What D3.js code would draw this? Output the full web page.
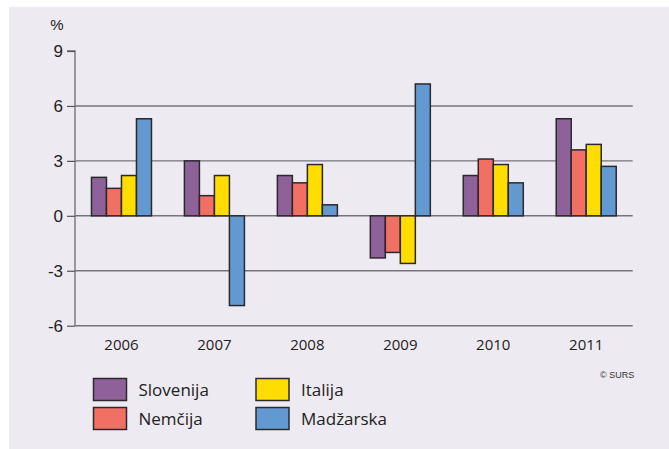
<!DOCTYPE html>
<html><head><meta charset="utf-8">
<script src="https://cdn.jsdelivr.net/npm/d3@7"></script>
<style>body{margin:0;background:#fff}svg{display:block}</style>
</head><body>
<svg id="c" width="669" height="449"></svg>
<script>
const years = ["2006","2007","2008","2009","2010","2011"];
const seriesNames = ["Slovenija","Nemčija","Italija","Madžarska"];
const slovenija = [2.1, 3.0, 2.2, -2.3, 2.2, 5.3];
const nemcija   = [1.5, 1.1, 1.8, -2.0, 3.1, 3.6];
const italija   = [2.2, 2.2, 2.8, -2.6, 2.8, 3.9];
const madzarska = [5.3, -4.9, 0.6, 7.2, 1.8, 2.7];
const yTicks = [9, 6, 3, 0, -3, -6];
const colors = ["#8F6199", "#F26F63", "#FFDD00", "#6399D1"];
const seriesVals = [slovenija, nemcija, italija, madzarska];

const svg = d3.select("#c");
svg.append("rect").attr("x",9).attr("y",7).attr("width",660).attr("height",442).attr("fill","#EEEAF1");

const x0 = d3.scaleBand().domain(years).range([75, 632.7]);
const x1 = d3.scaleBand().domain(seriesNames).range([0, 60]);
const y = d3.scaleLinear().domain([-6, 9]).range([325.7, 51]);

// gridlines
svg.append("g").selectAll("line").data(yTicks.filter(d => d !== 9)).join("line")
  .attr("x1", 75).attr("x2", 632.7).attr("y1", d => y(d)).attr("y2", d => y(d))
  .attr("stroke", "#77737a").attr("stroke-width", 1.4);

// y axis
const yAxis = d3.axisLeft(y).tickValues(yTicks).tickSize(8).tickPadding(4).tickFormat(d => String(d));
const ga = svg.append("g").attr("transform","translate(75,0)").call(yAxis);
ga.select(".domain").attr("stroke","#77737a").attr("stroke-width",1.4).attr("d", `M-8,${y(9)}H0V${y(-6)}`);
ga.selectAll(".tick line").attr("stroke","#55525a").attr("stroke-width",1.2);
ga.selectAll(".tick text").attr("font-family","Liberation Sans, Arial, sans-serif").attr("font-size",17).attr("fill","#222").attr("dy","0.35em");

svg.append("text").attr("x",57).attr("y",30).attr("text-anchor","middle")
  .attr("font-family","Liberation Sans, Arial, sans-serif").attr("font-size",15).attr("fill","#222").text("%");

// bars
years.forEach((yr, i) => {
  const g = svg.append("g").attr("transform", `translate(${x0(yr) + (x0.bandwidth()-60)/2},0)`);
  seriesNames.forEach((s, j) => {
    const v = seriesVals[j][i];
    g.append("rect")
      .attr("x", x1(s)).attr("width", x1.bandwidth())
      .attr("y", y(Math.max(0, v))).attr("height", Math.abs(y(v) - y(0)))
      .attr("fill", colors[j]).attr("stroke", "#2a2a2e").attr("stroke-width", 1.5);
  });
});

// x labels
const xAxis = d3.axisBottom(x0).tickSize(0).tickPadding(0);
const gx = svg.append("g").attr("transform", `translate(0,${y(-6)})`).call(xAxis);
gx.select(".domain").remove();
gx.selectAll(".tick text").attr("y", 24).attr("dy", 0)
  .attr("font-family","Open Sans, Noto Sans, sans-serif").attr("font-size",15).attr("fill","#222");

// copyright
svg.append("text").attr("x",600).attr("y",378).attr("font-family","Liberation Sans, Arial, sans-serif")
  .attr("font-size",9).attr("fill","#333").text("© SURS");

// legend
const legPos = [[93.5,378.5],[93.5,407.5],[256,378.5],[256,407.5]];
seriesNames.forEach((s, j) => {
  const [lx, ly] = legPos[j];
  svg.append("rect").attr("x", lx).attr("y", ly).attr("width", 33).attr("height", 22)
    .attr("fill", colors[j]).attr("stroke", "#2a2a2e").attr("stroke-width", 1.5);
  svg.append("text").attr("x", lx + 45).attr("y", ly + 17.5)
    .attr("font-family","Open Sans, Noto Sans, sans-serif").attr("font-size",17).attr("fill","#222").text(s);
});
</script>
</body></html>
